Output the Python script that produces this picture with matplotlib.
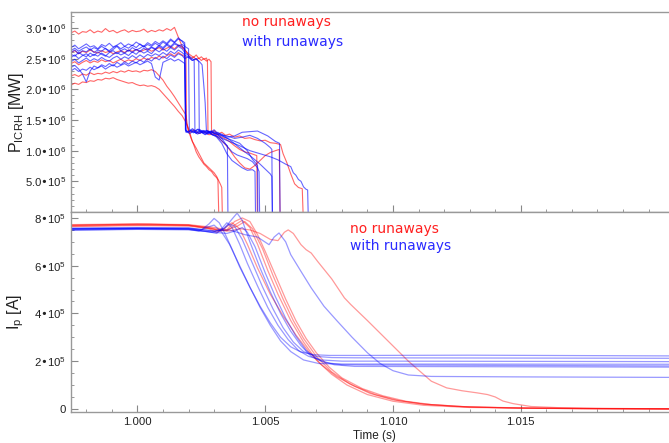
import numpy as np
import matplotlib
matplotlib.use("Agg")
import matplotlib.pyplot as plt
from matplotlib.ticker import FixedLocator, FixedFormatter, MultipleLocator

# ---- data: ICRH power (units of 1e6 W); common pre-disruption time grid ----
T_PRE = np.round(0.9974 + 0.00015 * np.arange(30), 6)

# red = no runaways
RT_PRE = [
    [2.92, 2.95, 2.90, 2.94, 2.93, 2.97, 2.92, 2.95, 2.93, 2.99, 2.94, 2.96, 2.92, 2.95, 2.97,
     2.93, 2.96, 2.94, 2.95, 2.98, 2.93, 2.96, 2.94, 2.97, 2.95, 2.99, 2.96, 3.01, 2.85, 2.70],
    [2.22, 2.24, 2.21, 2.25, 2.23, 2.27, 2.24, 2.26, 2.25, 2.28, 2.26, 2.29, 2.27, 2.30, 2.28,
     2.31, 2.29, 2.30, 2.28, 2.31, 2.30, 2.32, 2.29, 2.22, 2.15, 2.05, 1.97, 1.88, 1.78, 1.68],
    [2.07, 2.10, 2.08, 2.12, 2.11, 2.14, 2.13, 2.16, 2.15, 2.18, 2.17, 2.19, 2.16, 2.14, 2.12,
     2.10, 2.11, 2.08, 2.06, 2.07, 2.05, 2.06, 2.04, 2.00, 1.93, 1.86, 1.79, 1.72, 1.64, 1.57],
    [2.60, 2.63, 2.58, 2.62, 2.60, 2.64, 2.61, 2.59, 2.63, 2.60, 2.62, 2.58, 2.61, 2.63, 2.60,
     2.64, 2.62, 2.65, 2.61, 2.64, 2.66, 2.62, 2.65, 2.68, 2.64, 2.67, 2.70, 2.66, 2.72, 2.68],
    [2.42, 2.45, 2.40, 2.44, 2.47, 2.43, 2.46, 2.44, 2.48, 2.45, 2.47, 2.43, 2.46, 2.49, 2.45,
     2.48, 2.46, 2.50, 2.47, 2.51, 2.48, 2.52, 2.50, 2.54, 2.51, 2.55, 2.58, 2.54, 2.60, 2.56],
]
RT_TAIL_T = [
    [1.0019, 1.0020, 1.0021, 1.0022, 1.0023, 1.0024, 1.0025, 1.0026, 1.0027, 1.00274, 1.00276,
     1.0029, 1.0030, 1.00315, 1.0033, 1.00345, 1.0036, 1.0038, 1.0040, 1.0042, 1.0044, 1.0046,
     1.0048, 1.0050, 1.0052, 1.0054, 1.0056, 1.0057, 1.00585, 1.0060, 1.00615, 1.0063, 1.00645, 1.00648],
    [1.0019, 1.00195, 1.0020, 1.0021, 1.0022, 1.0024, 1.0026, 1.0028, 1.0030, 1.0032, 1.0034,
     1.0036, 1.0038, 1.0040, 1.0042, 1.0044, 1.0046, 1.0048, 1.0050, 1.0052, 1.0054, 1.00555, 1.00558],
    [1.0019, 1.0020, 1.00215, 1.0023, 1.0025, 1.0026, 1.0028, 1.0030, 1.0031, 1.00325, 1.0033, 1.00332],
    [1.0019, 1.0020, 1.0021, 1.0022, 1.0023, 1.0024, 1.0025, 1.0026, 1.0027, 1.0028, 1.00288,
     1.0029, 1.0030, 1.0032, 1.0034, 1.0036, 1.0038, 1.0040, 1.0042, 1.0044, 1.0046, 1.00467, 1.00469],
    [1.0019, 1.00192, 1.0020, 1.0021, 1.0022, 1.0023, 1.0024, 1.0025, 1.0026, 1.0027, 1.0028,
     1.0029, 1.0030, 1.0031, 1.00315, 1.00318],
]
RT_TAIL_V = [
    [2.62, 2.58, 2.55, 2.52, 2.56, 2.50, 2.53, 2.49, 2.51, 2.46, 1.32, 1.28, 1.33, 1.27, 1.30,
     1.25, 1.27, 1.22, 1.24, 1.20, 1.21, 1.18, 1.16, 1.17, 1.13, 1.12, 1.10, 0.95, 0.80, 0.62,
     0.46, 0.40, 0.38, 0.0],
    [1.58, 1.42, 1.32, 1.30, 1.34, 1.28, 1.31, 1.26, 1.27, 1.20, 1.12, 1.02, 0.90, 0.80, 0.72,
     0.70, 0.76, 0.84, 0.92, 0.97, 1.00, 1.02, 0.0],
    [1.46, 1.36, 1.15, 1.04, 0.88, 0.80, 0.72, 0.64, 0.58, 0.45, 0.40, 0.0],
    [2.62, 2.55, 2.50, 2.53, 2.48, 2.51, 2.47, 2.50, 2.46, 2.49, 2.45, 1.30, 1.28, 1.24, 1.20,
     1.15, 1.08, 1.02, 0.98, 0.96, 0.93, 0.92, 0.0],
    [2.52, 1.45, 1.32, 1.20, 1.10, 0.98, 0.90, 0.84, 0.78, 0.74, 0.69, 0.66, 0.60, 0.56, 0.52, 0.0],
]

# blue = with runaways
BT_PRE = [
    [2.68, 2.72, 2.66, 2.70, 2.74, 2.69, 2.71, 2.66, 2.73, 2.70, 2.75, 2.69, 2.72, 2.76, 2.70,
     2.74, 2.71, 2.77, 2.73, 2.70, 2.76, 2.72, 2.78, 2.74, 2.79, 2.75, 2.82, 2.77, 2.84, 2.78],
    [2.60, 2.64, 2.58, 2.63, 2.61, 2.66, 2.60, 2.64, 2.62, 2.67, 2.61, 2.65, 2.70, 2.63, 2.66,
     2.62, 2.68, 2.64, 2.67, 2.71, 2.65, 2.69, 2.66, 2.72, 2.68, 2.74, 2.70, 2.76, 2.72, 2.70],
    [2.52, 2.56, 2.50, 2.55, 2.58, 2.53, 2.57, 2.54, 2.59, 2.55, 2.52, 2.57, 2.60, 2.56, 2.59,
     2.55, 2.61, 2.57, 2.63, 2.59, 2.62, 2.58, 2.65, 2.61, 2.66, 2.62, 2.68, 2.64, 2.70, 2.66],
    [2.45, 2.49, 2.43, 2.47, 2.51, 2.46, 2.50, 2.47, 2.52, 2.48, 2.46, 2.51, 2.54, 2.49, 2.53,
     2.50, 2.55, 2.51, 2.56, 2.52, 2.57, 2.54, 2.58, 2.55, 2.60, 2.56, 2.62, 2.58, 2.64, 2.60],
    [2.36, 2.39, 2.33, 2.25, 2.12, 2.30, 2.38, 2.35, 2.40, 2.37, 2.42, 2.38, 2.44, 2.40, 2.45,
     2.41, 2.46, 2.43, 2.48, 2.44, 2.50, 2.46, 2.52, 2.48, 2.54, 2.50, 2.56, 2.52, 2.58, 2.55],
    [2.30, 2.34, 2.29, 2.33, 2.31, 2.36, 2.32, 2.35, 2.38, 2.33, 2.37, 2.40, 2.36, 2.39, 2.42,
     2.38, 2.41, 2.44, 2.40, 2.43, 2.46, 2.42, 2.20, 2.15, 2.44, 2.47, 2.50, 2.46, 2.49, 2.45],
    [2.63, 2.67, 2.62, 2.66, 2.69, 2.64, 2.68, 2.65, 2.70, 2.66, 2.63, 2.68, 2.71, 2.66, 2.70,
     2.67, 2.72, 2.68, 2.74, 2.69, 2.73, 2.70, 2.75, 2.71, 2.77, 2.73, 2.80, 2.76, 2.82, 2.79],
    [2.57, 2.54, 2.60, 2.56, 2.53, 2.59, 2.55, 2.61, 2.57, 2.54, 2.60, 2.63, 2.58, 2.62, 2.59,
     2.64, 2.60, 2.65, 2.62, 2.67, 2.63, 2.68, 2.65, 2.70, 2.66, 2.72, 2.68, 2.74, 2.71, 2.73],
]
BT_TAIL_T = [
    [1.00185, 1.00188, 1.0020, 1.00215, 1.0023, 1.00245, 1.0026, 1.00275, 1.0029, 1.00305,
     1.0032, 1.0034, 1.00352, 1.00354],
    [1.00185, 1.0019, 1.00205, 1.0022, 1.00235, 1.0025, 1.00265, 1.0028, 1.00295, 1.0031,
     1.0033, 1.0035, 1.0037, 1.0039, 1.0041, 1.0043, 1.0045, 1.0046, 1.00462],
    [1.00185, 1.0020, 1.00215, 1.00222, 1.00225, 1.0024, 1.00255, 1.0027, 1.00285, 1.0030,
     1.00315, 1.0033, 1.0035, 1.0037, 1.0039, 1.0041, 1.0043, 1.0045, 1.0047, 1.00476, 1.00478],
    [1.00185, 1.0020, 1.00215, 1.0023, 1.0024, 1.00242, 1.00255, 1.0027, 1.00285, 1.0030,
     1.00315, 1.0033, 1.0036, 1.0039, 1.0042, 1.0044, 1.0046, 1.0048, 1.0050, 1.0052, 1.00526, 1.00528],
    [1.00185, 1.0020, 1.00215, 1.0023, 1.00245, 1.00253, 1.0026, 1.00265, 1.0027, 1.00285,
     1.0030, 1.00315, 1.0033, 1.0035, 1.0038, 1.0041, 1.0044, 1.0047, 1.0049, 1.0051, 1.0054,
     1.00556, 1.00558],
    [1.00185, 1.0019, 1.00205, 1.0022, 1.00235, 1.0025, 1.00265, 1.0028, 1.00295, 1.0031,
     1.0033, 1.0036, 1.0040, 1.0044, 1.0048, 1.0052, 1.0055, 1.0058, 1.0060, 1.0061, 1.0062,
     1.0063, 1.0064, 1.0065, 1.0066, 1.00666, 1.00668],
    [1.00185, 1.00188, 1.0020, 1.00215, 1.0023, 1.00245, 1.0026, 1.00275, 1.0029, 1.00305,
     1.0032, 1.0034, 1.0037, 1.0040, 1.0043, 1.0045, 1.0047, 1.00471],
    [1.00185, 1.0020, 1.00203, 1.00215, 1.0023, 1.00245, 1.0026, 1.00275, 1.0029, 1.00305,
     1.0032, 1.0035, 1.0038, 1.0041, 1.0044, 1.0047, 1.0050, 1.0052, 1.00526, 1.00528],
]
BT_TAIL_V = [
    [2.72, 1.33, 1.30, 1.34, 1.28, 1.32, 1.29, 1.33, 1.27, 1.25, 1.20, 1.12, 1.08, 0.0],
    [2.66, 1.30, 1.33, 1.29, 1.35, 1.30, 1.27, 1.31, 1.26, 1.22, 1.12, 0.95, 0.84, 0.78, 0.72,
     0.68, 0.69, 0.66, 0.0],
    [2.60, 2.55, 2.50, 2.48, 1.32, 1.35, 1.30, 1.33, 1.28, 1.31, 1.26, 1.20, 1.08, 0.98, 0.93,
     0.90, 0.87, 0.82, 0.72, 0.66, 0.0],
    [2.56, 2.52, 2.47, 2.50, 2.45, 1.30, 1.33, 1.29, 1.32, 1.28, 1.30, 1.25, 1.18, 1.08, 0.98,
     0.92, 0.85, 0.78, 0.70, 0.62, 0.58, 0.0],
    [2.50, 2.53, 2.47, 2.50, 2.44, 2.40, 2.05, 1.78, 1.32, 1.30, 1.34, 1.28, 1.27, 1.22, 1.24,
     1.30, 1.31, 1.32, 1.28, 1.24, 1.15, 1.12, 0.0],
    [2.42, 1.31, 1.28, 1.32, 1.27, 1.30, 1.26, 1.29, 1.25, 1.24, 1.20, 1.15, 1.08, 1.00, 0.95,
     0.90, 0.85, 0.78, 0.74, 0.64, 0.60, 0.53, 0.50, 0.41, 0.37, 0.36, 0.0],
    [2.76, 1.34, 1.30, 1.36, 1.31, 1.28, 1.33, 1.29, 1.31, 1.27, 1.26, 1.22, 1.17, 1.12, 1.00,
     0.86, 0.76, 0.0],
    [2.70, 2.66, 1.35, 1.31, 1.29, 1.34, 1.30, 1.27, 1.32, 1.28, 1.26, 1.24, 1.20, 1.22, 1.25,
     1.20, 1.12, 1.05, 1.02, 0.0],
]

# ---- data: plasma current (units of 1e5 A) ----
IR_T = [
    [0.9974, 0.9990, 1.0005, 1.0020, 1.0028, 1.0032, 1.0035, 1.0038, 1.0041, 1.0044, 1.0047,
     1.0050, 1.0054, 1.0058, 1.0062, 1.0066, 1.0070, 1.0075, 1.0080, 1.0088, 1.0096, 1.0105,
     1.0115, 1.0130, 1.0150, 1.0180, 1.0208],
    [0.9974, 1.0000, 1.0020, 1.0028, 1.0031, 1.0034, 1.0037, 1.0040, 1.0043, 1.0047, 1.0052,
     1.0057, 1.0062, 1.0067, 1.0072, 1.0078, 1.0085, 1.0093, 1.0102, 1.0112, 1.0125, 1.0145,
     1.0175, 1.0208],
    [0.9974, 1.0000, 1.0020, 1.0030, 1.0035, 1.0038, 1.0041, 1.0044, 1.0047, 1.0051, 1.0055,
     1.0060, 1.0065, 1.0070, 1.0076, 1.0082, 1.0090, 1.0100, 1.0112, 1.0130, 1.0160, 1.0208],
    [0.9974, 1.0000, 1.0020, 1.0030, 1.0036, 1.0040, 1.0044, 1.0048, 1.0052, 1.0055, 1.00575,
     1.0059, 1.0061, 1.0064, 1.0066, 1.0068, 1.00705, 1.0076, 1.0081, 1.00835, 1.0090, 1.0098,
     1.0106, 1.0115, 1.0121, 1.0127, 1.0133, 1.0137, 1.0140, 1.0143, 1.0147, 1.0154, 1.0165,
     1.0185, 1.0208],
    [0.9974, 1.0000, 1.0020, 1.0030, 1.0035, 1.0039, 1.0042, 1.0045, 1.0049, 1.0053, 1.0057,
     1.0061, 1.0065, 1.0070, 1.0076, 1.0083, 1.0091, 1.0100, 1.0112, 1.0128, 1.0150, 1.0180, 1.0208],
]
IR_V = [
    [7.68, 7.72, 7.74, 7.70, 7.60, 7.45, 7.50, 7.85, 8.00, 7.85, 7.30, 6.60, 5.60, 4.60, 3.70,
     2.95, 2.35, 1.75, 1.30, 0.85, 0.55, 0.32, 0.18, 0.08, 0.03, 0.01, 0.0],
    [7.64, 7.68, 7.66, 7.55, 7.40, 7.55, 7.80, 7.55, 6.90, 5.90, 4.80, 3.90, 3.10, 2.40, 1.85,
     1.35, 0.95, 0.60, 0.35, 0.20, 0.10, 0.04, 0.01, 0.0],
    [7.70, 7.74, 7.70, 7.52, 7.45, 7.70, 7.90, 7.60, 6.90, 5.80, 4.80, 3.70, 2.80, 2.05, 1.45,
     1.00, 0.60, 0.32, 0.15, 0.06, 0.02, 0.0],
    [7.66, 7.70, 7.68, 7.55, 7.45, 7.55, 7.50, 7.35, 7.10, 7.05, 7.40, 7.50, 7.35, 6.88, 6.67,
     6.53, 6.18, 5.45, 4.65, 4.37, 3.70, 2.85, 2.00, 1.16, 0.88, 0.76, 0.67, 0.60, 0.50, 0.33,
     0.22, 0.10, 0.05, 0.02, 0.0],
    [7.72, 7.75, 7.72, 7.60, 7.50, 7.65, 7.85, 7.55, 6.70, 5.60, 4.60, 3.70, 2.95, 2.20, 1.55,
     1.05, 0.65, 0.38, 0.20, 0.09, 0.04, 0.01, 0.0],
]
IB_T = [
    [0.9974, 1.0000, 1.0020, 1.0025, 1.0028, 1.0030, 1.0032, 1.0034, 1.0037, 1.0040, 1.0044,
     1.0048, 1.0052, 1.0056, 1.0060, 1.0064, 1.0069, 1.0075, 1.0090, 1.0130, 1.0208],
    [0.9974, 1.0000, 1.0020, 1.0028, 1.0031, 1.0033, 1.0035, 1.0037, 1.0040, 1.0043, 1.0047,
     1.0051, 1.0055, 1.0059, 1.0063, 1.0067, 1.0072, 1.0080, 1.0100, 1.0208],
    [0.9974, 1.0000, 1.0020, 1.0030, 1.0034, 1.0037, 1.0039, 1.0041, 1.0044, 1.0048, 1.0052,
     1.0056, 1.0060, 1.0064, 1.0068, 1.0073, 1.0080, 1.0090, 1.0208],
    [0.9974, 1.0000, 1.0020, 1.0029, 1.0033, 1.0036, 1.0038, 1.0041, 1.0045, 1.0049, 1.0053,
     1.0057, 1.0061, 1.0065, 1.0070, 1.0076, 1.0085, 1.0208],
    [0.9974, 1.0020, 1.0030, 1.0036, 1.0042, 1.0047, 1.00515, 1.00535, 1.00554, 1.0058, 1.0060,
     1.0064, 1.0068, 1.0073, 1.0078, 1.0084, 1.0090, 1.0095, 1.0100, 1.0106, 1.0115, 1.0150, 1.0208],
    [0.9974, 1.0000, 1.0020, 1.0030, 1.0035, 1.0038, 1.0041, 1.0043, 1.0046, 1.0050, 1.0054,
     1.0058, 1.0062, 1.0066, 1.0071, 1.0077, 1.0085, 1.0208],
    [0.9974, 1.0000, 1.0020, 1.0024, 1.0027, 1.0030, 1.0033, 1.0036, 1.0040, 1.0044, 1.0048,
     1.0052, 1.0056, 1.0060, 1.0065, 1.0071, 1.0080, 1.0208],
]
IB_V = [
    [7.52, 7.56, 7.55, 7.50, 7.75, 7.98, 7.80, 7.40, 6.70, 5.95, 5.10, 4.30, 3.60, 3.00, 2.60,
     2.38, 2.27, 2.24, 2.24, 2.25, 2.22],
    [7.50, 7.53, 7.52, 7.42, 7.35, 7.55, 7.80, 7.60, 6.90, 6.10, 5.15, 4.25, 3.50, 2.90, 2.45,
     2.20, 2.05, 2.00, 2.00, 1.98],
    [7.58, 7.60, 7.58, 7.45, 7.55, 7.95, 8.20, 7.90, 7.00, 5.90, 4.90, 4.00, 3.25, 2.65, 2.20,
     1.95, 1.85, 1.84, 1.80],
    [7.55, 7.57, 7.55, 7.40, 7.50, 7.75, 7.65, 7.10, 6.10, 5.10, 4.20, 3.40, 2.80, 2.40, 2.20,
     2.15, 2.14, 2.12],
    [7.55, 7.58, 7.45, 7.50, 7.30, 7.20, 6.88, 7.20, 7.37, 7.00, 6.46, 5.76, 5.07, 4.30, 3.70,
     3.00, 2.35, 1.90, 1.60, 1.42, 1.36, 1.34, 1.32],
    [7.48, 7.52, 7.50, 7.40, 7.35, 7.45, 7.60, 7.40, 6.80, 5.70, 4.70, 3.80, 3.05, 2.45, 2.05,
     1.85, 1.78, 1.75],
    [7.54, 7.56, 7.53, 7.45, 7.60, 7.70, 7.40, 6.90, 6.00, 5.10, 4.25, 3.50, 2.85, 2.40, 2.05,
     1.90, 1.88, 1.87],
]

P_TICKS = [5e5, 1.0e6, 1.5e6, 2.0e6, 2.5e6, 3.0e6]
P_LABELS = [r"5.0•10$^{\mathregular{5}}$", r"1.0•10$^{\mathregular{6}}$", r"1.5•10$^{\mathregular{6}}$",
            r"2.0•10$^{\mathregular{6}}$", r"2.5•10$^{\mathregular{6}}$", r"3.0•10$^{\mathregular{6}}$"]
I_TICKS = [0, 2e5, 4e5, 6e5, 8e5]
I_LABELS = ["0", r"2•10$^{\mathregular{5}}$", r"4•10$^{\mathregular{5}}$",
            r"6•10$^{\mathregular{5}}$", r"8•10$^{\mathregular{5}}$"]
T_TICKS = [1.000, 1.005, 1.010, 1.015]
T_LABELS = ["1.000", "1.005", "1.010", "1.015"]

RED = "#ff0000"
BLUE = "#0000ff"

plt.rcParams["font.family"] = ["Liberation Sans", "DejaVu Sans"]

fig = plt.figure(figsize=(6.69, 4.43), dpi=100)
ax1 = fig.add_axes([0.1061, 0.5214, 0.8939, 0.4515])
ax2 = fig.add_axes([0.1061, 0.0700, 0.8939, 0.4515])

for pre, tt, tv in zip(RT_PRE, RT_TAIL_T, RT_TAIL_V):
    t = np.concatenate([T_PRE, tt])
    v = np.concatenate([pre, tv]) * 1e6
    ax1.plot(t, v, color=RED, lw=0.8, alpha=0.6)
for pre, tt, tv in zip(BT_PRE, BT_TAIL_T, BT_TAIL_V):
    t = np.concatenate([T_PRE, tt])
    v = np.concatenate([pre, tv]) * 1e6
    ax1.plot(t, v, color=BLUE, lw=0.8, alpha=0.6)

for t, v in zip(IR_T, IR_V):
    ax2.plot(t, np.array(v) * 1e5, color=RED, lw=0.9, alpha=0.4)
for t, v in zip(IB_T, IB_V):
    ax2.plot(t, np.array(v) * 1e5, color=BLUE, lw=0.9, alpha=0.4)

for ax in (ax1, ax2):
    ax.set_xlim(0.9974, 1.0208)
    ax.xaxis.set_major_locator(FixedLocator(T_TICKS))
    ax.xaxis.set_minor_locator(MultipleLocator(0.001))
    ax.tick_params(which="both", direction="in", colors="#888888", labelcolor="#222222",
                   labelsize=8.2, top=False, right=False)
    ax.tick_params(which="major", length=5, width=0.8)
    ax.tick_params(which="minor", length=2.5, width=0.6)
    for side in ("left", "bottom", "top"):
        ax.spines[side].set_color("#999999")
        ax.spines[side].set_linewidth(1.0)
    ax.spines["right"].set_visible(False)

ax1.set_ylim(0, 3.26e6)
ax1.yaxis.set_major_locator(FixedLocator(P_TICKS))
ax1.yaxis.set_major_formatter(FixedFormatter(P_LABELS))
ax1.yaxis.set_minor_locator(MultipleLocator(1e5))
ax1.tick_params(axis="x", labelbottom=False)
ax1.set_ylabel(r"P$_{\mathregular{ICRH}}$ [MW]", fontsize=11.5, color="#222222")
ax1.yaxis.set_label_coords(-0.076, 0.5)

ax2.set_ylim(-1.3e4, 8.25e5)
ax2.yaxis.set_major_locator(FixedLocator(I_TICKS))
ax2.yaxis.set_major_formatter(FixedFormatter(I_LABELS))
ax2.yaxis.set_minor_locator(MultipleLocator(5e4))
ax2.xaxis.set_major_formatter(FixedFormatter(T_LABELS))
ax2.set_ylabel(r"I$_{\mathregular{p}}$ [A]", fontsize=11.5, color="#222222")
ax2.yaxis.set_label_coords(-0.076, 0.5)
ax2.set_xlabel("Time (s)", fontsize=8.5, color="#222222")
ax2.xaxis.set_label_coords(0.508, -0.09)

ax1.text(0.2868, 0.95, "no runaways", transform=ax1.transAxes, color="#ff2020",
         fontsize=10, family="DejaVu Sans", va="center")
ax1.text(0.2868, 0.85, "with runaways", transform=ax1.transAxes, color="#2a2aff",
         fontsize=10, family="DejaVu Sans", va="center")
ax2.text(0.467, 0.915, "no runaways", transform=ax2.transAxes, color="#ff2020",
         fontsize=10, family="DejaVu Sans", va="center")
ax2.text(0.467, 0.83, "with runaways", transform=ax2.transAxes, color="#2a2aff",
         fontsize=10, family="DejaVu Sans", va="center")

fig.savefig("out.png", dpi=100)
